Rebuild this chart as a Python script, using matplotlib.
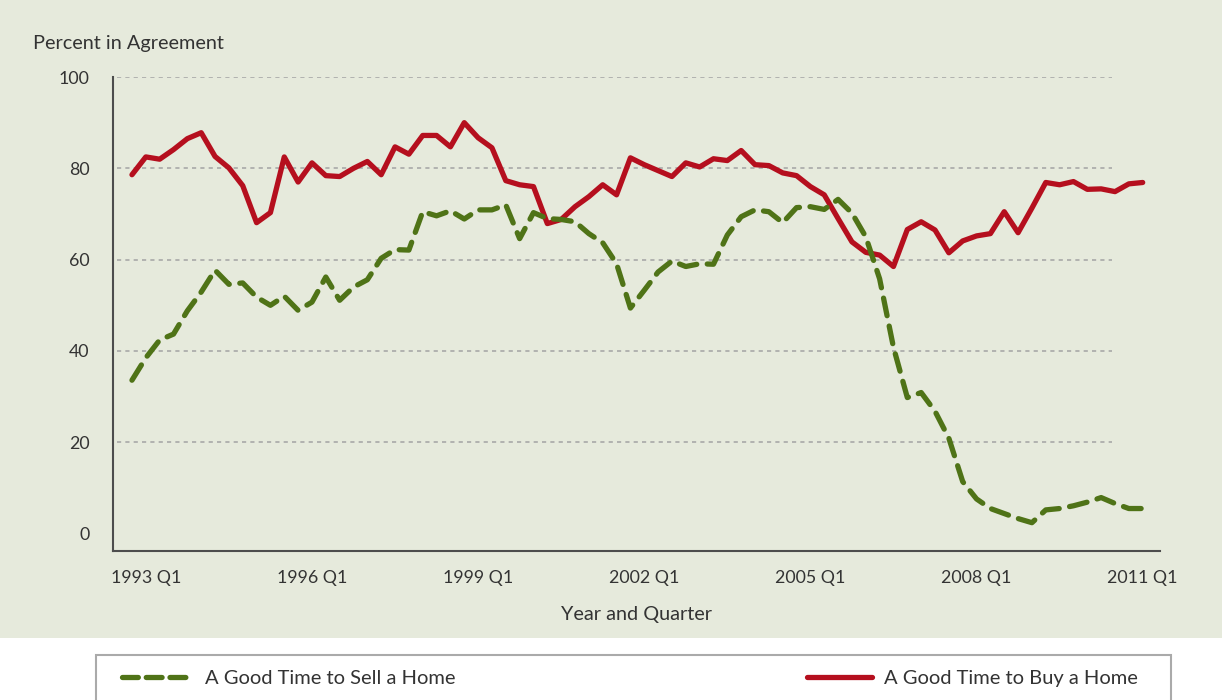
import matplotlib
matplotlib.use("Agg")
import matplotlib.pyplot as plt
from matplotlib.patches import Rectangle
from matplotlib.lines import Line2D
import numpy as np

# ----------------------------
# Data (quarterly, 1992 Q4 .. 2011 Q1)
# ----------------------------
buy_home = [78.6, 82.5, 82.0, 84.1, 86.5, 87.8, 82.6, 80.1, 76.2, 68.1,
            70.3, 82.5, 77.0, 81.2, 78.4, 78.2, 80.0, 81.5, 78.6, 84.7,
            83.1, 87.2, 87.2, 84.7, 90.0, 86.7, 84.5, 77.3, 76.4, 76.0,
            67.9, 68.8, 71.6, 73.8, 76.4, 74.2, 82.3, 80.8, 79.5, 78.2,
            81.2, 80.3, 82.1, 81.7, 83.9, 80.8, 80.6, 79.0, 78.4, 76.0,
            74.2, 69.0, 63.9, 61.6, 61.0, 58.5, 66.6, 68.3, 66.5, 61.5,
            64.1, 65.2, 65.7, 70.5, 65.9, 71.3, 76.9, 76.4, 77.1, 75.4,
            75.5, 74.9, 76.6, 76.9]

sell_home = [33.6, 38.5, 42.4, 43.7, 48.8, 52.9, 57.7, 54.6, 54.9, 51.8,
             50.0, 52.0, 48.9, 50.7, 56.2, 51.1, 54.0, 55.6, 60.3, 62.2,
             62.1, 70.5, 69.6, 70.7, 68.9, 70.9, 70.9, 72.0, 64.6, 70.3,
             69.0, 68.8, 68.3, 65.7, 63.7, 59.1, 49.4, 53.3, 57.3, 59.7,
             58.5, 59.1, 59.0, 65.4, 69.4, 70.9, 70.5, 68.1, 71.4, 71.6,
             71.0, 73.2, 70.2, 65.0, 55.8, 40.8, 29.8, 30.9, 26.8, 20.9,
             11.4, 7.6, 5.5, 4.4, 3.3, 2.4, 5.2, 5.5, 6.1, 6.9,
             7.9, 6.6, 5.5, 5.5]

tick_labels = ["1993 Q1", "1996 Q1", "1999 Q1", "2002 Q1", "2005 Q1", "2008 Q1", "2011 Q1"]
tick_idx = [1, 13, 25, 37, 49, 61, 73]
y_ticks = [0, 20, 40, 60, 80, 100]

# ----------------------------
# Style
# ----------------------------
BG = "#E6EADC"
RED = "#B50F1E"
GREEN = "#4F7317"
TXT = "#333333"
plt.rcParams["font.family"] = ["Lato", "DejaVu Sans"]

x = np.arange(len(buy_home))

fig = plt.figure(figsize=(12.22, 7.0), dpi=100, facecolor="white")
# sage panel behind the chart
fig.patches.append(Rectangle((0, 62 / 700), 1, 1, transform=fig.transFigure,
                             facecolor=BG, edgecolor="none", zorder=-10))
# legend box at the bottom
fig.patches.append(Rectangle((96 / 1222, -0.02), 1075 / 1222, (700 - 655) / 700 + 0.02,
                             transform=fig.transFigure, facecolor="white",
                             edgecolor="#AAAAAA", linewidth=1.5, zorder=-9))

ax = fig.add_axes([113 / 1222, (700 - 551) / 700, (1160 - 113) / 1222, (551 - 77) / 700])
ax.set_facecolor("none")

for yv in y_ticks[1:]:
    ax.axhline(yv, xmin=0.004, xmax=0.954, color="#A8A8A8", lw=1.2,
               linestyle=(0, (2.5, 2.5)), zorder=1)

ax.plot(x, buy_home, color=RED, lw=3.8, solid_joinstyle="round",
        solid_capstyle="round", zorder=3, label="A Good Time to Buy a Home")
ax.plot(x, sell_home, color=GREEN, lw=3.8, linestyle=(0, (3.4, 2.0)),
        dash_capstyle="round", dash_joinstyle="round", zorder=4,
        label="A Good Time to Sell a Home")

ax.set_xlim(-1.37, 74.25)
ax.set_ylim(-3.8, 100)
ax.set_xticks(tick_idx)
ax.set_xticklabels(tick_labels)
ax.set_yticks(y_ticks)
ax.tick_params(axis="both", length=0, labelsize=12.8, colors=TXT)
ax.tick_params(axis="x", pad=14)
ax.tick_params(axis="y", pad=17)

for s in ["top", "right"]:
    ax.spines[s].set_visible(False)
for s in ["left", "bottom"]:
    ax.spines[s].set_color("#4D4D4D")
    ax.spines[s].set_linewidth(1.5)

ax.set_xlabel("Year and Quarter", fontsize=14.3, color=TXT, labelpad=14)
fig.text(33 / 1222, 1 - 43 / 700, "Percent in Agreement", fontsize=14.3,
         color=TXT, va="center", ha="left")

# legend entries
h_sell = Line2D([], [], color=GREEN, lw=3.8, linestyle=(0, (3.0, 1.5)), dash_capstyle="round")
h_buy = Line2D([], [], color=RED, lw=3.8, solid_capstyle="round")
fig.legend([h_sell], ["A Good Time to Sell a Home"], loc="center left",
           bbox_to_anchor=(104 / 1222, 1 - 678 / 700), frameon=False,
           fontsize=14.5, handlelength=3.5, handletextpad=0.6, labelcolor=TXT)
fig.legend([h_buy], ["A Good Time to Buy a Home"], loc="center left",
           bbox_to_anchor=(789 / 1222, 1 - 678 / 700), frameon=False,
           fontsize=14.5, handlelength=3.2, handletextpad=0.6, labelcolor=TXT)

fig.savefig("out.png", dpi=100, facecolor="white")
